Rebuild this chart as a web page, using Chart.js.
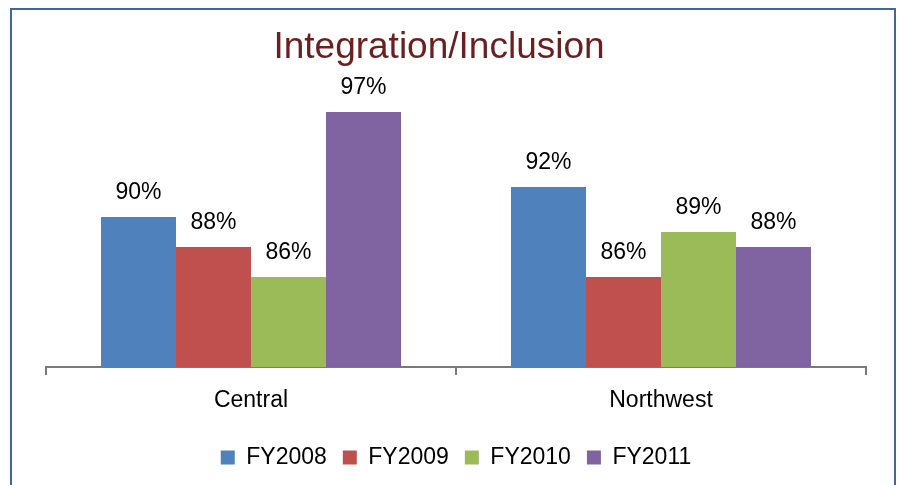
<!DOCTYPE html>
<html>
<head>
<meta charset="utf-8">
<script src="https://cdn.jsdelivr.net/npm/chart.js@4.4.0/dist/chart.umd.min.js"></script>
<style>
  html, body { margin: 0; padding: 0; background: #fff; overflow: hidden; }
  #frame {
    position: absolute; left: 10px; top: 8px; width: 882px; height: 600px;
    border: 2px solid #41679c;
  }
  #wrap { position: absolute; left: 0; top: 0; width: 903px; height: 485px; }
</style>
</head>
<body>
<div id="frame"></div>
<div id="wrap"><canvas id="chart" width="903" height="485"></canvas></div>
<script>
const regions = ["Central", "Northwest"];
const years = ["FY2008", "FY2009", "FY2010", "FY2011"];
const fy2008 = [90, 92];
const fy2009 = [88, 86];
const fy2010 = [86, 89];
const fy2011 = [97, 88];
const colors = ["#4f81bd", "#c0504d", "#9bbb59", "#8064a2"];

const sans = "'Liberation Sans', Arial, sans-serif";

// chart title, drawn a bit left of the plot centre
const titlePlugin = {
  id: "titleText",
  afterDraw(chart) {
    const ctx = chart.ctx;
    ctx.save();
    ctx.font = "37px " + sans;
    ctx.fillStyle = "#6b2020";
    ctx.textAlign = "center";
    ctx.textBaseline = "alphabetic";
    ctx.fillText("Integration/Inclusion", 439, 58);
    ctx.restore();
  }
};

// percentage above each bar
const valueLabels = {
  id: "valueLabels",
  afterDatasetsDraw(chart) {
    const ctx = chart.ctx;
    ctx.save();
    ctx.font = "23px " + sans;
    ctx.fillStyle = "#000";
    ctx.textAlign = "center";
    ctx.textBaseline = "alphabetic";
    chart.data.datasets.forEach((ds, i) => {
      chart.getDatasetMeta(i).data.forEach((bar, j) => {
        ctx.fillText(ds.data[j] + "%", bar.x, bar.y - 18);
      });
    });
    ctx.restore();
  }
};

const seriesData = [fy2008, fy2009, fy2010, fy2011];

new Chart(document.getElementById("chart"), {
  type: "bar",
  data: {
    labels: regions,
    datasets: years.map((y, i) => ({
      label: y,
      data: seriesData[i],
      backgroundColor: colors[i],
      borderWidth: 0,
      categoryPercentage: 0.7317,
      barPercentage: 1
    }))
  },
  options: {
    responsive: false,
    animation: false,
    layout: { padding: { left: 46, right: 37, top: 67, bottom: 6 } },
    plugins: {
      title: { display: false },
      tooltip: { enabled: false },
      legend: {
        position: "bottom",
        labels: {
          boxWidth: 14,
          boxHeight: 14,
          padding: 16,
          color: "#000",
          font: { family: sans, size: 23 }
        }
      }
    },
    scales: {
      x: {
        afterFit(scale) { scale.height = 63; },
        grid: {
          display: true,
          offset: true,
          drawOnChartArea: false,
          drawTicks: true,
          tickLength: 8,
          color: "#7a7a7a",
          lineWidth: 2
        },
        border: { display: true, color: "#7a7a7a", width: 2 },
        ticks: { color: "#000", padding: 12, font: { family: sans, size: 23 } }
      },
      y: {
        display: false,
        min: 80,
        max: 100
      }
    }
  },
  plugins: [titlePlugin, valueLabels]
});
</script>
</body>
</html>
